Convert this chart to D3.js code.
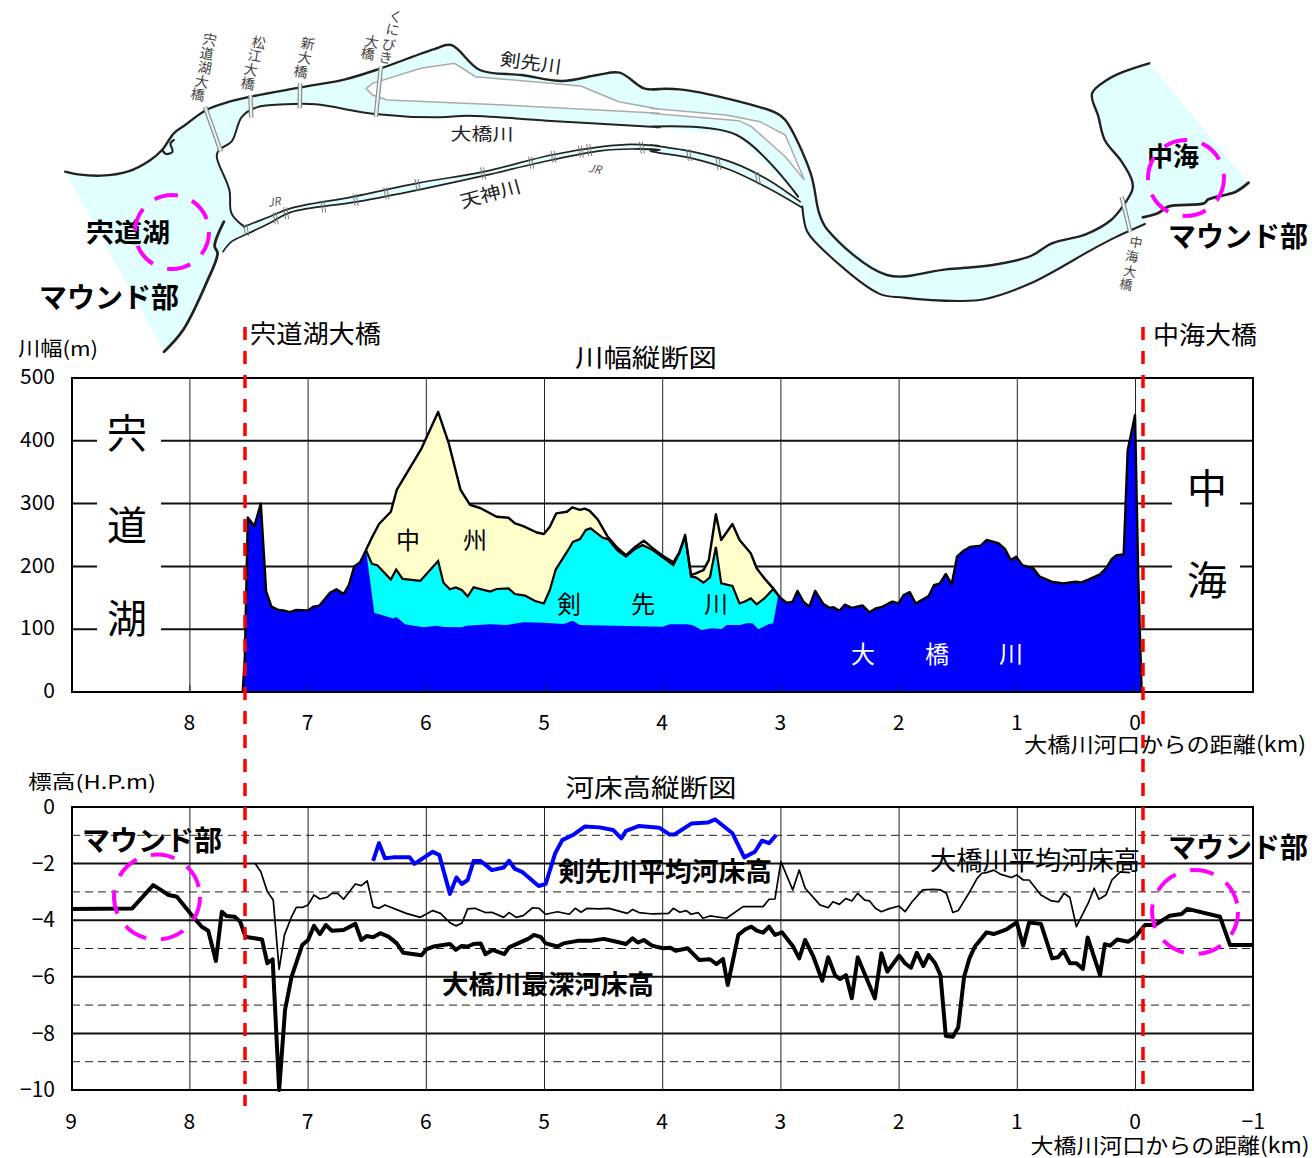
<!DOCTYPE html>
<html><head><meta charset="utf-8">
<script src="https://cdn.jsdelivr.net/npm/d3@7"></script>
<style>html,body{margin:0;padding:0;background:#fff}svg{display:block}text{font-family:"Noto Sans CJK JP","Noto Sans",sans-serif}</style>
</head><body><svg id="c" width="1312" height="1158"></svg>
<script>
// ---- width profile (km from river mouth, width in m)
const leftKm=[7.553,7.535,7.51,7.455,7.40,7.355,7.31,7.25,7.21,7.155,7.105,7.0,6.955,6.905,6.855,6.815,6.76,6.70,6.655,6.61,6.56,6.51];
const leftW=[0,56,278,264,300,160,136,130.5,130,127,130.5,130,136,137.5,149,158,163.5,156,170,200,206.5,226];
const islandKm=[6.46,6.40,6.30,6.25,6.04,5.90,5.81,5.71,5.63,5.545,5.405,5.305,5.25,5.18,5.065,5.005,4.955,4.90,4.81,4.765,4.70,4.66,4.62,4.55,4.465,4.38,4.31,4.24,4.16,4.085,4.0,3.91,3.86,3.81,3.76,3.72,3.655,3.61,3.55,3.505,3.41,3.35,3.255,3.205,3.14,3.065];
const islandW=[246,267.5,287,321.7,388,446,396,321.7,298,293,279,277.5,268.5,264,254,251.6,263,284.5,287,294,290,292,288.7,275,247,229,218,230,241,229,217,206.5,222,250,186,189,194,210,283,242,267.5,242,221,197,181,165];
const kenzakiKm=[6.46,6.415,6.30,6.255,6.20,6.05,5.90,5.855,5.80,5.75,5.70,5.65,5.60,5.46,5.405,5.305,5.25,5.165,5.08,5.005,4.955,4.905,4.79,4.76,4.70,4.65,4.61,4.51,4.46,4.385,4.31,4.24,4.17,4.085,4.0,3.91,3.86,3.81,3.76,3.72,3.655,3.60,3.55,3.505,3.41,3.35,3.305,3.255,3.205,3.14,3.065];
const kenzakiW=[204,202,179,195,180,177,208.6,174,163.5,166.6,162.4,152,166.6,160,164,165,156,153.5,145,141,162.4,195,229,239,243.6,258,260.6,246,243,226,215.5,227,234,226,214.5,202,221,247,183.6,182.6,174,182.6,231,173,168.8,141,144,149,139.6,149,164];
const ohashiMidKm=[6.44,6.28,6.255,6.18,6.025,5.91,5.855,5.70,5.66,5.46,5.32,5.18,5.01,4.84,4.76,4.70,4.0,3.94,3.80,3.75,3.67,3.585,3.50,3.46,3.345,3.29,3.24,3.19,3.105,3.065,3.02];
const ohashiMidW=[126,117,120,108,103,105.6,103.5,103,105.6,108,106.7,111,110.3,108.3,113.5,106.7,104,107.8,108,106.7,98.7,101.4,100.3,106.7,106.7,109.4,109.4,99.8,108,109.4,157];
const rightKm=[3.01,2.95,2.90,2.86,2.81,2.76,2.71,2.64,2.59,2.555,2.505,2.46,2.40,2.31,2.25,2.20,2.15,2.09,2.055,2.005,1.96,1.91,1.86,1.75,1.705,1.655,1.605,1.555,1.51,1.455,1.40,1.31,1.26,1.16,1.105,1.055,1.01,.957,.865,.81,.71,.61,.51,.455,.385,.30,.25,.20,.16,.10,.066,.004,-.024,-.052];
const rightW=[151,142,144,161,144,136,161,140,134,135,129.5,139,134,138,127,133,135,141,144,141,154.5,159,141,153,170,173,188,171.5,215.5,225,231,233,242,237,228,210,215.5,202,197,183.6,175.6,173,175.6,174.6,180,187.4,197,211.8,218,219,385,441,178,0];
// ---- bed elevation profiles (km, H.P. m)
const deepKm=[9,8.49,8.31,8.18,8.11,7.985,7.90,7.845,7.78,7.73,7.69,7.62,7.575,7.53,7.505,7.39,7.345,7.30,7.245,7.195,7.14,7.05,7.0,6.95,6.90,6.85,6.80,6.70,6.60,6.55,6.505,6.45,6.39,6.32,6.25,6.195,6.04,6.0,5.94,5.80,5.75,5.70,5.65,5.60,5.54,5.50,5.44,5.34,5.30,5.13,5.09,5.03,4.99,4.89,4.84,4.72,4.61,4.50,4.39,4.31,4.255,4.21,4.16,4.09,4.0,3.935,3.89,3.79,3.69,3.60,3.545,3.49,3.45,3.36,3.30,3.25,3.205,3.15,3.10,3.05,2.99,2.895,2.845,2.795,2.725,2.65,2.60,2.54,2.50,2.45,2.40,2.35,2.205,2.15,2.10,2.0,1.95,1.90,1.85,1.795,1.75,1.695,1.65,1.605,1.545,1.50,1.45,1.405,1.36,1.26,1.20,1.09,1.005,.95,.90,.80,.705,.655,.61,.555,.50,.445,.405,.30,.26,.215,.155,.06,0,-.08,-.165,-.29,-.39,-.44,-.715,-.80,-.99];
const deepZ=[-3.6,-3.59,-2.76,-3.11,-3.17,-3.82,-4.23,-4.37,-5.44,-3.70,-3.85,-3.88,-4.05,-4.58,-4.60,-4.68,-5.52,-5.38,-10,-7.17,-6.0,-4.88,-4.7,-4.2,-4.49,-4.17,-4.37,-4.35,-4.13,-4.7,-4.56,-4.6,-4.46,-4.58,-4.82,-5.15,-5.24,-5.03,-4.93,-4.84,-5.05,-4.91,-4.93,-4.84,-4.82,-5.2,-5.05,-5.2,-4.96,-4.64,-4.52,-4.6,-4.82,-4.93,-4.82,-4.73,-4.73,-4.66,-4.76,-4.84,-4.64,-4.79,-4.7,-4.9,-4.99,-4.97,-5.08,-4.99,-5.41,-5.38,-5.55,-5.37,-6.29,-4.52,-4.32,-4.23,-4.37,-4.44,-4.23,-4.52,-4.43,-4.94,-5.35,-4.7,-5.29,-6.14,-5.31,-5.96,-6.08,-5.94,-6.76,-5.31,-6.76,-5.17,-5.82,-5.25,-5.52,-5.68,-5.15,-5.62,-5.23,-5.52,-5.94,-8.09,-8.12,-7.79,-6.0,-5.35,-4.94,-4.43,-4.49,-4.32,-4.08,-4.9,-4.08,-4.13,-5.35,-5.31,-5.08,-5.52,-5.52,-5.72,-4.61,-5.94,-4.85,-4.9,-4.68,-4.76,-4.58,-4.17,-4.17,-3.84,-3.78,-3.6,-3.88,-4.88,-4.88];
const meanKm=[7.45,7.40,7.345,7.295,7.245,7.20,7.14,7.10,7.05,7.0,6.95,6.90,6.84,6.80,6.75,6.70,6.60,6.55,6.50,6.45,6.40,6.35,6.17,6.05,5.945,5.88,5.80,5.75,5.70,5.65,5.59,5.50,5.445,5.345,5.30,5.24,5.18,5.10,5.045,4.99,4.89,4.79,4.74,4.69,4.64,4.54,4.455,4.30,4.255,4.20,4.085,3.95,3.91,3.855,3.80,3.76,3.70,3.66,3.60,3.46,3.32,3.15,3.10,3.05,3.0,2.90,2.845,2.795,2.67,2.60,2.56,2.505,2.45,2.40,2.35,2.29,2.25,2.20,2.15,2.09,2.0,1.95,1.89,1.80,1.71,1.65,1.60,1.545,1.50,1.41,1.34,1.30,1.26,1.20,1.145,1.05,1.005,.95,.90,.80,.71,.65,.605,.555,.50,.40,.35,.31,.25,.20,.13,.045];
const meanZ=[-1.99,-2.29,-2.99,-3.29,-5.74,-4.52,-3.88,-3.55,-3.55,-3.46,-3.11,-3.25,-3.19,-3.05,-3.05,-3.26,-2.72,-2.78,-2.61,-3.52,-3.58,-3.46,-3.76,-3.9,-3.66,-3.76,-4.09,-4.2,-4.11,-3.6,-3.58,-3.73,-3.72,-3.9,-3.73,-3.9,-3.84,-3.56,-3.58,-3.79,-3.7,-3.79,-3.58,-3.72,-3.58,-3.6,-3.58,-3.76,-3.62,-3.73,-3.78,-3.76,-3.58,-3.72,-3.66,-3.79,-3.73,-3.93,-3.85,-3.93,-3.52,-3.52,-3.26,-3.25,-1.93,-2.93,-2.23,-2.87,-3.46,-3.56,-3.35,-3.44,-3.23,-3.32,-3.05,-3.29,-3.32,-3.58,-3.7,-3.6,-3.5,-3.7,-3.35,-2.93,-2.91,-2.93,-3.05,-3.73,-3.66,-3.05,-2.52,-2.34,-2.32,-2.23,-2.37,-2.49,-2.4,-2.58,-2.58,-3.11,-3.32,-3.35,-3.05,-3.2,-4.23,-3.4,-2.87,-3.26,-3.11,-2.58,-2.29,-2.32];
const kenBedKm=[6.45,6.40,6.35,6.28,6.14,6.10,5.945,5.89,5.80,5.745,5.70,5.65,5.60,5.54,5.445,5.345,5.30,5.25,5.19,5.05,4.99,4.91,4.85,4.76,4.66,4.535,4.42,4.35,4.31,4.20,4.03,3.945,3.90,3.755,3.62,3.555,3.41,3.31,3.22,3.16,3.10,3.04];
const kenBedZ=[-1.9,-1.28,-1.81,-1.78,-1.78,-2.01,-1.58,-1.7,-3.07,-2.49,-2.72,-2.58,-1.91,-1.91,-2.23,-2.14,-1.9,-2.19,-2.29,-2.79,-2.72,-1.64,-1.17,-.99,-.69,-.72,-.81,-1.11,-.84,-.67,-.73,-.97,-.97,-.58,-.55,-.44,-.93,-1.78,-1.58,-1.19,-1.28,-.99];
// ---- axes
const kmTicksTop=[8,7,6,5,4,3,2,1,0];
const kmTicksBottom=[9,8,7,6,5,4,3,2,1,0,-1];
const widthTicks=[0,100,200,300,400,500];
const elevMajor=[0,-2,-4,-6,-8,-10];
const elevMinor=[-1,-3,-5,-7,-9];
// ---- map outline sketches, in crop units of the two map halves
const upperW=[[155,515],[185,523],[240,527],[305,514],[355,482],[385,450],[413,400],[440,375],[490,330],[545,305],[595,290],[715,262],[820,238],[905,205],[1030,148],[1072,135],[1140,210],[1240,225],[1335,243],[1420,225],[1472,218],[1530,265],[1568,268]];
const upperE=[[0,268],[70,268],[190,298],[300,340],[320,360],[380,520],[400,640],[420,690],[560,825],[700,808],[810,795],[900,768],[950,730],[1030,703],[1090,660],[1120,615],[1140,570],[1140,545],[1115,485],[1075,420],[1060,350],[1045,280],[1080,240],[1120,215],[1180,190]];
const southShoreE=[[1415,548],[1385,575],[1320,598],[1310,610],[1225,620],[1200,640],[1165,652]];
const lowerE=[[1170,672],[1100,712],[1050,745],[900,850],[790,898],[730,903],[600,893],[540,880],[390,725],[370,690],[360,620]];
const tenjinLowW=[[530,755],[550,725],[585,703],[640,670],[690,637],[850,605],[1000,568],[1150,527],[1310,480],[1430,452],[1500,447],[1568,450]];
const tenjinLowE=[[0,453],[100,475],[190,510],[280,565],[358,622]];
const tenjinUpW=[[580,680],[640,650],[690,625],[840,590],[990,550],[1150,515],[1310,465],[1430,440],[1500,433],[1568,438]];
const tenjinUpE=[[0,435],[100,455],[200,490],[280,540],[355,605]];
const ohashiLowW=[[580,680],[550,640],[545,570],[515,470],[520,450],[550,425],[575,350],[610,322],[680,313],[750,313],[890,342],[1045,352],[1110,347],[1300,362],[1568,382]];
const ohashiLowE=[[0,380],[205,405],[350,590]];
const lakeShoreW=[[532,665],[510,738],[517,760],[490,850],[435,990],[390,1055]];
const bayW=[[385,450],[395,462],[410,455],[405,430],[413,420]];
const nakasuW=[[870,265],[885,250],[1000,205],[1080,190],[1130,230],[1380,258],[1470,305],[1568,328]];
const nakasuE=[[0,325],[180,345],[260,365],[320,405],[365,540],[320,470],[240,380],[210,362],[0,340]];
const nakasuW2=[[1568,340],[1200,315],[920,300],[885,285],[870,265]];
const bridgesW=[[[487,320],[525,455]],[[595,285],[597,352]],[[713,250],[712,325]],[[905,200],[893,350]]];
const bridgesE=[[[1115,590],[1135,695]]];
const jrTicksW=[[585,690],[655,655],[680,640],[768,620],[845,600],[918,580],[992,555],[1148,520],[1262,488],[1315,470],[1380,455],[1400,450],[1525,443]];
const jrTicksE=[[92,465],[162,493],[255,535]];

const svg=d3.select('#c');
const F='"Noto Sans CJK JP","Noto Sans",sans-serif';
const L=p=>[p[0]/2.376,p[1]/3], R=p=>[650+p[0]/2.364,p[1]/3];
const path=d3.line();
const smooth=d3.line().curve(d3.curveCatmullRom.alpha(0.5));
const map=svg.append('g');
const wl=a=>a.map(L), el=a=>a.map(R);
const riverPoly=[...wl(upperW),...el(upperE),...el([[1415,548]]),...el(southShoreE),...el(lowerE),...el(tenjinLowE).reverse(),...wl(tenjinLowW).reverse(),...wl([[517,760],[490,850],[435,990],[390,1055]])];
map.append('path').attr('d',path(riverPoly)+'Z').attr('fill','#e2ffff');
const islandPoly=[...wl(ohashiLowW),...el(ohashiLowE),...el(tenjinUpE).reverse(),...wl(tenjinUpW).reverse()];
map.append('path').attr('d',path(islandPoly)+'Z').attr('fill','#fff');
const nakasuPoly=[...wl(nakasuW),...el(nakasuE),...wl(nakasuW2)];
map.append('path').attr('d',path(nakasuPoly)+'Z').attr('fill','#fff').attr('stroke','#aaa').attr('stroke-width',1.5);
const dark=(pts,w)=>map.append('path').attr('d',smooth(pts)).attr('fill','none').attr('stroke','#222').attr('stroke-width',w).attr('stroke-linejoin','round').attr('stroke-linecap','round');
dark([...wl(upperW),...el(upperE)],2.4);
dark(el(southShoreE),2.8);dark(el(lowerE),2.1);
dark(wl(lakeShoreW),2.8);dark(wl(bayW),2.2);
dark([...wl(ohashiLowW),...el(ohashiLowE)],2);
dark([...wl(tenjinUpW),...el(tenjinUpE)],1.7);dark([...wl(tenjinLowW),...el(tenjinLowE)],1.7);
bridgesW.map(b=>b.map(L)).concat(bridgesE.map(b=>b.map(R))).forEach(b=>{
  map.append('path').attr('d',path(b)).attr('stroke','#888').attr('stroke-width',4.5).attr('fill','none');
  map.append('path').attr('d',path(b)).attr('stroke','#e8f4f4').attr('stroke-width',2.2).attr('fill','none');
});
jrTicksW.map(L).concat(jrTicksE.map(R)).forEach(p=>{
  [-1.5,1.5].forEach(d=>map.append('line').attr('x1',p[0]+d-1).attr('y1',p[1]-6).attr('x2',p[0]+d+1).attr('y2',p[1]+6).attr('stroke','#777').attr('stroke-width',1));
});
const T=(s,x,y0,size,o={})=>{
  const y=y0-size*0.09;
  const t=svg.append('text').text(s).attr('x',x).attr('y',y).attr('font-size',size).attr('text-anchor',o.anchor||'middle').attr('dominant-baseline','central').attr('fill',o.fill||'#000').attr('font-weight',o.bold?700:400).attr('font-family',F);
  if(o.rot)t.attr('transform',`rotate(${o.rot} ${x} ${y})`);
  if(o.len)t.attr('textLength',o.len).attr('lengthAdjust','spacingAndGlyphs');
  if(o.style)t.attr('font-style',o.style);
  return t;
};
const col=(s,pts,size)=>[...s].forEach((c,i)=>T(c,pts[i][0],pts[i][1],size,{fill:'#444',rot:10}));
col('宍道湖大橋',[[210,40],[207,54],[205,68],[202,82],[198,95]],14);
col('松江大橋',[[259,43],[255,56],[251,70],[248,84]],14);
col('新大橋',[[308,44],[305,58],[301,72]],14);
col('くにびき',[[396,17],[393,30],[389,45],[386,58]],14);
col('大橋',[[372,42],[368,54]],14);
col('中海大橋',[[1136,243],[1132,257],[1130,272],[1126,285]],13);
T('JR',274,202,11,{fill:'#555',rot:-10,style:'italic'});
T('JR',595,169,11,{fill:'#555',rot:10,style:'italic'});
T('剣先川',531,63,18,{fill:'#222',rot:8,len:62});
T('大橋川',482,134,17,{fill:'#222',len:63});
T('天神川',490,194,18,{fill:'#222',rot:-15,len:62});

// ---- width chart
const x=d3.scaleLinear().domain([9,-1]).range([71.7,1253.7]);
const yW=d3.scaleLinear().domain([0,500]).range([692,378]);
const yZ=d3.scaleLinear().domain([-10,0]).range([1090,807]);
const gW=svg.append('g');
kmTicksTop.forEach(k=>gW.append('line').attr('x1',x(k)).attr('x2',x(k)).attr('y1',378).attr('y2',692).attr('stroke','#222').attr('stroke-width',1));
widthTicks.slice(1,-1).forEach(v=>gW.append('line').attr('x1',72).attr('x2',1253).attr('y1',yW(v)).attr('y2',yW(v)).attr('stroke','#111').attr('stroke-width',2));
// white masks around the big labels
[[97,418,64,230],[1172,470,68,130]].forEach(r=>gW.append('rect').attr('x',r[0]).attr('y',r[1]).attr('width',r[2]).attr('height',r[3]).attr('fill','#fff'));
const zip=(a,b)=>a.map((k,i)=>[k,b[i]]);
const area=d3.area().x(d=>x(d[0])).y0(yW(0)).y1(d=>yW(d[1]));
const wLine=d3.line().x(d=>x(d[0])).y(d=>yW(d[1]));
const left=zip(leftKm,leftW), right=zip(rightKm,rightW);
const j0=left[left.length-1], j1=right[0];
const island=[j0,...zip(islandKm,islandW),j1], kenz=[j0,...zip(kenzakiKm,kenzakiW),j1];
const ohashi=[...left,...zip(ohashiMidKm,ohashiMidW),...right];
gW.append('path').attr('d',area(island)).attr('fill','#ffffcc');
gW.append('path').attr('d',area(kenz)).attr('fill','#00ffff');
gW.append('path').attr('d',area(ohashi)).attr('fill','#0000ff');
gW.append('path').attr('d',wLine(kenz)).attr('fill','none').attr('stroke','#000').attr('stroke-width',2.2);
gW.append('path').attr('d',wLine([...left,...island.slice(1),...right.slice(1)])).attr('fill','none').attr('stroke','#000').attr('stroke-width',2.4).attr('stroke-linejoin','round');
kmTicksTop.forEach(k=>gW.append('line').attr('x1',x(k)).attr('x2',x(k)).attr('y1',685).attr('y2',692).attr('stroke','#222'));
gW.append('rect').attr('x',72).attr('y',378).attr('width',1181).attr('height',314).attr('fill','none').attr('stroke','#000').attr('stroke-width',2);
const axT=d3.axisBottom(x).tickValues(kmTicksTop).tickSize(0).tickPadding(0).tickFormat(d=>String(d));
svg.append('g').attr('transform','translate(-1,715)').call(axT).call(g=>g.select('.domain').remove()).selectAll('text').attr('font-size',21).attr('font-family',F);
const axYW=d3.axisLeft(yW).tickValues(widthTicks).tickSize(0).tickPadding(0);
svg.append('g').attr('transform','translate(55,-1)').call(axYW).call(g=>g.select('.domain').remove()).selectAll('text').attr('font-size',21).attr('font-family',F);

// ---- bed chart
const gZ=svg.append('g');
kmTicksBottom.slice(1,-1).forEach(k=>gZ.append('line').attr('x1',x(k)).attr('x2',x(k)).attr('y1',807).attr('y2',1090).attr('stroke','#222').attr('stroke-width',1));
elevMinor.forEach(v=>gZ.append('line').attr('x1',72).attr('x2',1253).attr('y1',yZ(v)).attr('y2',yZ(v)).attr('stroke','#222').attr('stroke-width',1).attr('stroke-dasharray','8 5'));
elevMajor.slice(1,-1).forEach(v=>gZ.append('line').attr('x1',72).attr('x2',1253).attr('y1',yZ(v)).attr('y2',yZ(v)).attr('stroke','#111').attr('stroke-width',2));
gZ.append('rect').attr('x',72).attr('y',807).attr('width',1181).attr('height',283).attr('fill','none').attr('stroke','#000').attr('stroke-width',2);
const zLine=d3.line().x(d=>x(d[0])).y(d=>yZ(d[1]));
const plotLine=(k,z,c,w)=>gZ.append('path').attr('d',zLine(zip(k,z))).attr('fill','none').attr('stroke',c).attr('stroke-width',w).attr('stroke-linejoin','round');
plotLine(meanKm,meanZ,'#000',1.7);
plotLine(deepKm,deepZ,'#000',4);
plotLine(kenBedKm,kenBedZ,'#0000ff',4);
const axB=d3.axisBottom(x).tickValues(kmTicksBottom).tickSize(0).tickPadding(0).tickFormat(d=>d<0?'−'+(-d):String(d));
svg.append('g').attr('transform','translate(-1,1114)').call(axB).call(g=>g.select('.domain').remove()).selectAll('text').attr('font-size',21).attr('font-family',F);
const axYZ=d3.axisLeft(yZ).tickValues(elevMajor).tickSize(0).tickPadding(0).tickFormat(d=>d<0?'−'+(-d):'0');
svg.append('g').attr('transform','translate(55,0)').call(axYZ).call(g=>g.select('.domain').remove()).selectAll('text').attr('font-size',21).attr('font-family',F);

// ---- labels
T('川幅(m)',58,349,20,{len:80});
T('川幅縦断図',646,358,25,{len:142});
T('宍道湖大橋',250,334,25,{anchor:'start',len:131});
T('中海大橋',1153,335,25,{anchor:'start',len:104});
T('標高(H.P.m)',92,782,19,{len:128});
T('河床高縦断図',651,788,25,{len:171});
T('大橋川河口からの距離(km)',1165,745,21,{len:282});
T('大橋川河口からの距離(km)',1170,1146,21,{len:279});
T('宍',127,435,40);T('道',127,527,40);T('湖',127,620,40);
T('中',1207,490,40);T('海',1207,582,40);
T('中',408,541,24);T('州',475,541,24);
T('剣',569,605,24);T('先',643,605,24);T('川',716,605,24);
T('大',863,655,24,{fill:'#fff'});T('橋',937,655,24,{fill:'#fff'});T('川',1011,655,24,{fill:'#fff'});
T('宍道湖',128,233,26,{bold:true,len:84});
T('中海',1173,157,26,{bold:true,len:52});
T('マウンド部',109,299,28,{bold:true,len:140});
T('マウンド部',1238,238,28,{bold:true,len:140});
T('マウンド部',152,842,28,{bold:true,len:140});
T('マウンド部',1238,849,28,{bold:true,len:140});
T('剣先川平均河床高',665,872,26,{bold:true,len:214});
T('大橋川平均河床高',1035,861,26,{len:210});
T('大橋川最深河床高',548,985,26,{bold:true,len:212});
// ---- markers
[[172,232,37,37],[1186,178,38,38],[157,897,43,42.5],[1195,912,43,42]].forEach(c=>svg.append('ellipse').attr('cx',c[0]).attr('cy',c[1]).attr('rx',c[2]).attr('ry',c[3]).attr('fill','none').attr('stroke','#ff00ff').attr('stroke-width',4).attr('stroke-dasharray','24 15'));
[[245,327,1106],[1143,327,1092]].forEach(r=>svg.append('line').attr('x1',r[0]).attr('x2',r[0]).attr('y1',r[1]).attr('y2',r[2]).attr('stroke','#ff0000').attr('stroke-width',3.5).attr('stroke-dasharray','13 11'));
</script></body></html>
